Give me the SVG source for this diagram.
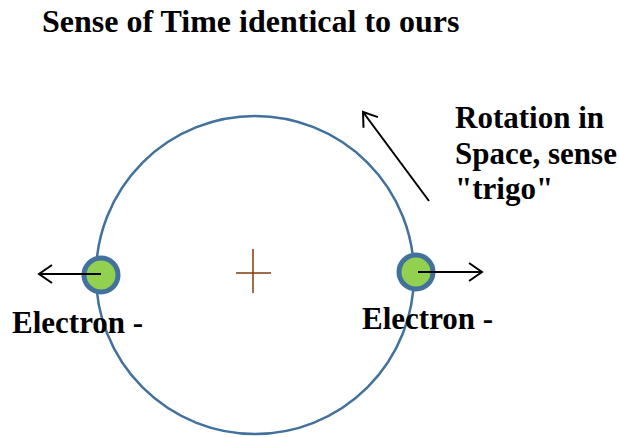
<svg xmlns="http://www.w3.org/2000/svg" width="619" height="437" viewBox="0 0 619 437">
<defs>
<style>
.t{font-family:"Liberation Serif","Times New Roman",serif;font-weight:bold;fill:#000;font-size:31px}
.arr{stroke:#000;stroke-width:2;fill:none}
.e{fill:#92D050;stroke:#41719C;stroke-width:5}
</style>
<marker id="open" markerWidth="20" markerHeight="20" refX="15" refY="10" orient="auto" markerUnits="userSpaceOnUse">
<path d="M2,1 L15,10 L2,19" fill="none" stroke="#000" stroke-width="2"/>
</marker>
</defs>
<rect width="619" height="437" fill="#fff"/>
<text class="t" x="42" y="32" style="font-size:32px">Sense of Time identical to ours</text>
<g id="orbit">
<circle cx="255" cy="275" r="159" fill="none" stroke="#41719C" stroke-width="2.5"/>
</g>
<g id="center">
<path d="M236,273 H271 M253,249 V293" stroke="#843C0C" stroke-width="1.5"/>
</g>
<g id="electron-left">
<circle class="e" cx="101" cy="275" r="17"/>
<text class="t" x="12" y="333">Electron -</text>
</g>
<g id="electron-right">
<circle class="e" cx="416" cy="272" r="17"/>
<text class="t" x="362" y="329">Electron -</text>
</g>
<g id="rotation-label">
<text class="t" x="455" y="128">Rotation in</text>
<text class="t" x="455" y="164">Space, sense</text>
<text class="t" x="455" y="199">"trigo"</text>
</g>
<g id="connectors">
<line class="arr" x1="101" y1="274" x2="39" y2="274" marker-end="url(#open)"/>
<line class="arr" x1="418" y1="272" x2="482" y2="272" marker-end="url(#open)"/>
<line class="arr" x1="429" y1="201" x2="363" y2="112" marker-end="url(#open)"/>
</g>
</svg>
